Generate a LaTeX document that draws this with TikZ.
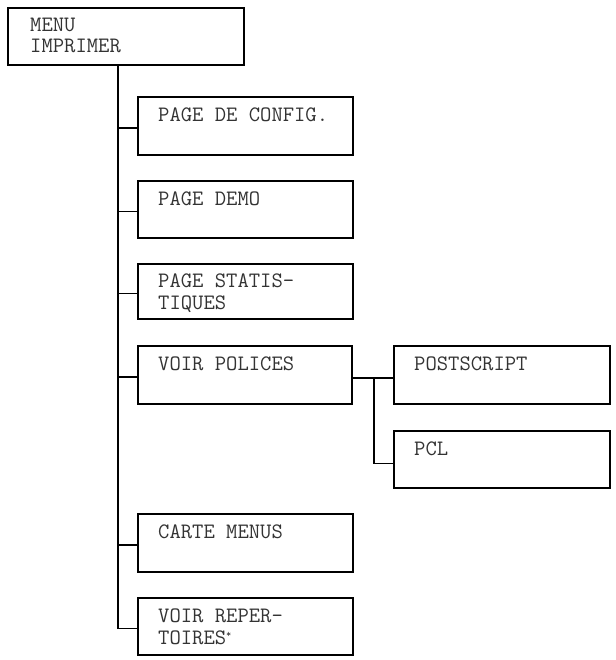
\documentclass[tikz,border=0pt]{standalone}
\usepackage{fontspec}
\usetikzlibrary{calc}
\tikzset{
  box/.style={draw=black, line width=1.8pt, rectangle, inner sep=0pt, anchor=north west},
  txt/.style={anchor=base west, inner sep=0pt, font=\ttfamily\fontsize{22}{22.7}\selectfont, text=black!80},
  conn/.style={draw=black, line width=1.8pt},
}
\newcommand{\twol}[2]{\begin{tabular}[t]{@{}l@{}}#1\\#2\end{tabular}}
\begin{document}
\begin{tikzpicture}[x=1pt,y=-1pt]
\useasboundingbox (0,0) rectangle (615,660);
% boxes
\node[box, minimum width=236pt, minimum height=57pt] (root) at (7,7) {};
\node[box, minimum width=215pt, minimum height=58pt] (config) at (137,96) {};
\node[box, minimum width=215pt, minimum height=57pt] (demo) at (137,180) {};
\node[box, minimum width=215pt, minimum height=55pt] (statis) at (137,263) {};
\node[box, minimum width=214pt, minimum height=58pt] (polices) at (137,345) {};
\node[box, minimum width=216pt, minimum height=58pt] (ps) at (393,345) {};
\node[box, minimum width=216pt, minimum height=57pt] (pcl) at (393,430) {};
\node[box, minimum width=215pt, minimum height=58pt] (carte) at (137,513) {};
\node[box, minimum width=215pt, minimum height=57pt] (repert) at (137,597) {};
% texts
\node[txt, font=\ttfamily\fontsize{22}{20.5}\selectfont] (rootT) at ($(root.north west)+(23,25)$) {\twol{MENU}{IMPRIMER}};
\node[txt] (configT) at ($(config.north west)+(21,26)$) {PAGE DE CONFIG.};
\node[txt] (demoT) at ($(demo.north west)+(21,25)$) {PAGE DEMO};
\node[txt] (statisT) at ($(statis.north west)+(21,24)$) {\twol{PAGE STATIS-}{TIQUES}};
\node[txt] (policesT) at ($(polices.north west)+(21,25)$) {VOIR POLICES};
\node[txt] (psT) at ($(ps.north west)+(21,25)$) {POSTSCRIPT};
\node[txt] (pclT) at ($(pcl.north west)+(21,25)$) {PCL};
\node[txt] (carteT) at ($(carte.north west)+(21,25)$) {CARTE MENUS};
\node[txt] (repertT) at ($(repert.north west)+(21,25)$) {\twol{VOIR REPER-}{TOIRES\raisebox{7pt}{\fontsize{10}{10}\selectfont *}}};
% connectors
\coordinate (trunk) at ($(root.south west)+(111,0)$);
\coordinate (sub) at ($(polices.east)+(21,0)$);
\draw[conn] (trunk) |- ([yshift=-2pt]repert.west);
\foreach \n in {config,demo,statis,polices,carte}
  \draw[conn] (trunk) |- ([yshift=-2pt]\n.west);
\draw[conn] ([yshift=-3pt]polices.east) -- ([yshift=-3pt]ps.west);
\draw[conn] ([yshift=-3pt]sub) |- ([yshift=-4pt]pcl.west);
\end{tikzpicture}
\end{document}
